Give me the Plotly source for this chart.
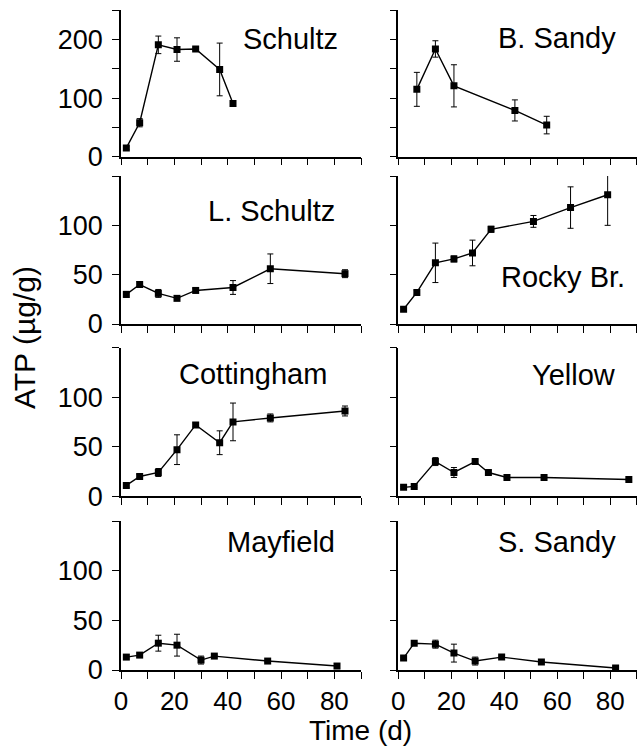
import plotly.graph_objects as go

# ---- data (days, ATP µg/g, ± error) ----
schultz_days = [2, 7, 14, 21, 28, 37, 42]
schultz_atp = [15, 58, 191, 183, 184, 149, 91]
schultz_err = [3, 7, 15, 20, 3, 45, 4]

bsandy_days = [7, 14, 21, 44, 56]
bsandy_atp = [115, 184, 121, 79, 54]
bsandy_err = [29, 14, 36, 18, 15]

lschultz_days = [2, 7, 14, 21, 28, 42, 56, 84]
lschultz_atp = [30, 40, 31, 26, 34, 37, 56, 51]
lschultz_err = [3, 3, 4, 2, 2, 7, 15, 4]

rocky_days = [2, 7, 14, 21, 28, 35, 51, 65, 79]
rocky_atp = [15, 32, 62, 66, 72, 96, 104, 118, 131]
rocky_err = [2, 2, 20, 3, 13, 3, 6, 21, 31]

cott_days = [2, 7, 14, 21, 28, 37, 42, 56, 84]
cott_atp = [11, 20, 24, 47, 72, 54, 75, 79, 86]
cott_err = [2, 2, 4, 15, 2, 12, 19, 4, 5]

yellow_days = [2, 6, 14, 21, 29, 34, 41, 55, 87]
yellow_atp = [9, 10, 35, 24, 35, 24, 19, 19, 17]
yellow_err = [1, 1, 4, 5, 2, 2, 1, 1, 1]

mayfield_days = [2, 7, 14, 21, 30, 35, 55, 81]
mayfield_atp = [13, 15, 27, 25, 10, 14, 9, 4]
mayfield_err = [2, 2, 8, 11, 4, 1, 1, 1]

ssandy_days = [2, 6, 14, 21, 29, 39, 54, 82]
ssandy_atp = [12, 27, 26, 17, 9, 13, 8, 2]
ssandy_err = [1, 1, 4, 9, 4, 1, 1, 1]

site_names = ["Schultz", "B. Sandy", "L. Schultz", "Rocky Br.",
              "Cottingham", "Yellow", "Mayfield", "S. Sandy"]

x_tickvals = [0, 10, 20, 30, 40, 50, 60, 70, 80, 90]
x_ticktext = ["0", "", "20", "", "40", "", "60", "", "80", ""]
y_tickvals_top = [0, 50, 100, 150, 200, 250]
y_ticktext_top = ["0", "", "100", "", "200", ""]
y_tickvals = [0, 50, 100, 150]
y_ticktext = ["0", "50", "100", ""]

series = [
    (schultz_days, schultz_atp, schultz_err),
    (bsandy_days, bsandy_atp, bsandy_err),
    (lschultz_days, lschultz_atp, lschultz_err),
    (rocky_days, rocky_atp, rocky_err),
    (cott_days, cott_atp, cott_err),
    (yellow_days, yellow_atp, yellow_err),
    (mayfield_days, mayfield_atp, mayfield_err),
    (ssandy_days, ssandy_atp, ssandy_err),
]

W, H = 637, 746
FONT = "Liberation Sans"


def px(x):
    return x / W


def py(y):
    return 1 - y / H


col_dom = [[px(121), px(361)], [px(398.3), px(636.8)]]
row_dom = [[py(156.7), py(10.3)], [py(324), py(176)],
           [py(496.3), py(347.5)], [py(670), py(521)]]

fig = go.Figure()
layout = {}
for i, (d, v, e) in enumerate(series):
    r, c = divmod(i, 2)
    n = i + 1
    xa = "x" if n == 1 else f"x{n}"
    ya = "y" if n == 1 else f"y{n}"
    fig.add_trace(go.Scatter(
        x=d, y=v, xaxis=xa, yaxis=ya, mode="lines+markers",
        line=dict(color="black", width=1.4),
        marker=dict(symbol="square", size=7, color="black"),
        error_y=dict(type="data", array=e, visible=True, color="black",
                     thickness=1, width=3),
        showlegend=False, cliponaxis=True,
    ))
    bottom = (r == 3)
    layout[f"xaxis{'' if n == 1 else n}"] = dict(
        domain=col_dom[c], anchor=ya, range=[0, 90], automargin=False,
        tickmode="array", tickvals=x_tickvals, ticktext=x_ticktext,
        showticklabels=bottom, ticks="outside", ticklen=7, tickwidth=1.2,
        tickcolor="black", showline=True, linecolor="black", linewidth=1.5,
        showgrid=False, zeroline=False,
        tickfont=dict(family=FONT, size=26, color="black"),
    )
    if r == 0:
        tv, tt, rng = y_tickvals_top, y_ticktext_top, [0, 250]
    else:
        tv, tt, rng = y_tickvals, y_ticktext, [0, 150]
    layout[f"yaxis{'' if n == 1 else n}"] = dict(
        domain=row_dom[r], anchor=xa, range=rng, automargin=False,
        tickmode="array", tickvals=tv, ticktext=tt,
        showticklabels=(c == 0), ticks="outside", ticklen=7, tickwidth=1.2,
        tickcolor="black", showline=True, linecolor="black", linewidth=1.5,
        showgrid=False, zeroline=False,
        tickfont=dict(family=FONT, size=27, color="black"),
        ticklabelstandoff=4,
    )

# panel labels: (right edge px, vertical centre px)
label_pos = [(340, 39), (618, 38), (337, 211), (627, 277),
             (329, 374), (618, 375), (337, 542), (618, 542)]
annotations = []
for name, (lx, ly) in zip(site_names, label_pos):
    annotations.append(dict(
        text=name, x=px(lx), y=py(ly), xref="paper", yref="paper",
        xanchor="right", yanchor="middle", showarrow=False,
        font=dict(family=FONT, size=29, color="black"),
    ))
annotations.append(dict(
    text="ATP (µg/g)", x=px(24), y=py(338), xref="paper", yref="paper",
    xanchor="center", yanchor="middle", textangle=-90, showarrow=False,
    font=dict(family=FONT, size=30, color="black"),
))
annotations.append(dict(
    text="Time (d)", x=px(360), y=py(730), xref="paper", yref="paper",
    xanchor="center", yanchor="middle", showarrow=False,
    font=dict(family=FONT, size=28, color="black"),
))

fig.update_layout(
    width=W, height=H, margin=dict(l=0, r=0, t=0, b=0),
    paper_bgcolor="white", plot_bgcolor="white",
    annotations=annotations, **layout,
)

fig.write_html(
    "out.html",
    config={"displayModeBar": False},
    post_script="document.body.style.margin='0';document.body.style.overflow='hidden';",
)
